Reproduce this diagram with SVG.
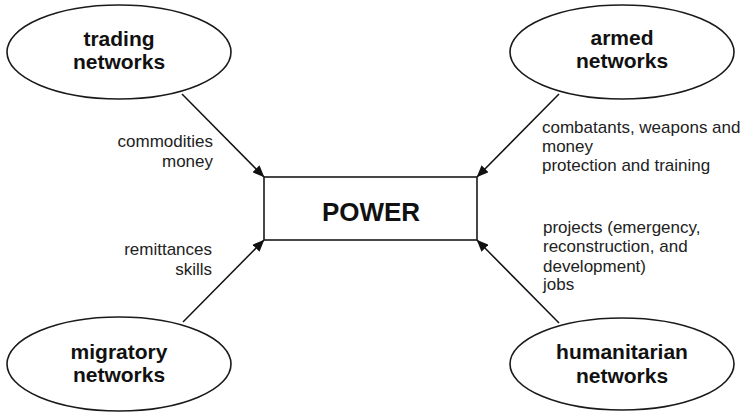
<svg xmlns="http://www.w3.org/2000/svg" width="747" height="413" viewBox="0 0 747 413">
<style>
.node{fill:#fff;stroke:#1a1a1a;stroke-width:1.6}
.nt{font-family:"Liberation Sans",Arial,sans-serif;font-weight:bold;font-size:21px;fill:#111;text-anchor:middle}
.pt{font-family:"Liberation Sans",Arial,sans-serif;font-weight:bold;font-size:26px;fill:#111;text-anchor:middle}
.lb{font-family:"Liberation Sans",Arial,sans-serif;font-size:17px;fill:#222}
.edge{stroke:#111;stroke-width:1.5;fill:none;marker-end:url(#ah)}
</style>
<defs>
<marker id="ah" viewBox="0 0 12 10" refX="11.5" refY="5" markerWidth="12" markerHeight="10" markerUnits="userSpaceOnUse" orient="auto">
<path d="M0,0 L12,5 L0,10 Z" fill="#111"/>
</marker>
</defs>
<rect width="747" height="413" fill="#fff"/>
<g id="connectors">
<line class="edge" x1="182" y1="94" x2="264" y2="177"/>
<line class="edge" x1="559" y1="94" x2="477" y2="177"/>
<line class="edge" x1="183" y1="322" x2="264" y2="240"/>
<line class="edge" x1="559" y1="323" x2="477" y2="240"/>
</g>
<g id="power">
<rect class="node" x="264" y="177" width="213" height="63"/>
<text class="pt" x="371" y="221">POWER</text>
</g>
<g id="trading">
<ellipse class="node" cx="119" cy="52" rx="112" ry="47"/>
<text class="nt" x="119" y="46">trading</text>
<text class="nt" x="119" y="69">networks</text>
</g>
<g id="armed">
<ellipse class="node" cx="622" cy="52" rx="112" ry="47"/>
<text class="nt" x="622" y="45">armed</text>
<text class="nt" x="622" y="68">networks</text>
</g>
<g id="migratory">
<ellipse class="node" cx="119" cy="364" rx="112" ry="47"/>
<text class="nt" x="119" y="359">migratory</text>
<text class="nt" x="119" y="382">networks</text>
</g>
<g id="humanitarian">
<ellipse class="node" cx="622" cy="364" rx="112" ry="46"/>
<text class="nt" x="622" y="359">humanitarian</text>
<text class="nt" x="622" y="383">networks</text>
</g>
<g id="labels">
<text class="lb" x="213" y="147" text-anchor="end">commodities</text>
<text class="lb" x="213" y="167" text-anchor="end">money</text>
<text class="lb" x="542" y="133">combatants, weapons and</text>
<text class="lb" x="542" y="152">money</text>
<text class="lb" x="542" y="171">protection and training</text>
<text class="lb" x="212" y="255" text-anchor="end">remittances</text>
<text class="lb" x="212" y="275" text-anchor="end">skills</text>
<text class="lb" x="543" y="233">projects (emergency,</text>
<text class="lb" x="543" y="252">reconstruction, and</text>
<text class="lb" x="543" y="272">development)</text>
<text class="lb" x="543" y="290">jobs</text>
</g>
</svg>
